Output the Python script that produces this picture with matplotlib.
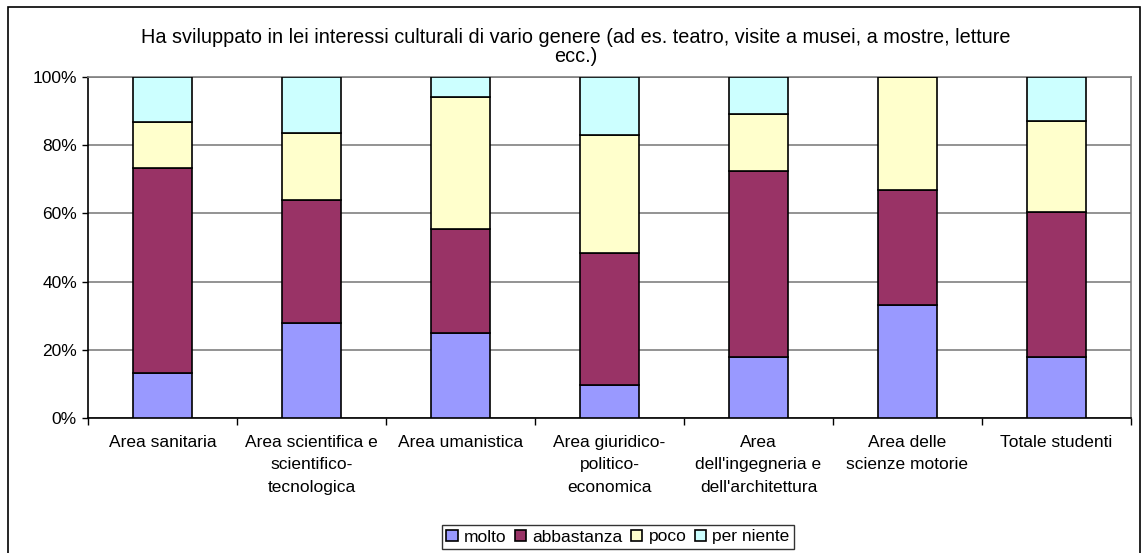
import numpy as np
import matplotlib.pyplot as plt
from matplotlib.patches import Rectangle

plt.rcParams['font.family'] = ['Liberation Sans', 'DejaVu Sans']

# categories and shares (%) for each answer
categories = ["Area sanitaria", "Area scientifica e\nscientifico-\ntecnologica",
              "Area umanistica", "Area giuridico-\npolitico-\neconomica",
              "Area\ndell'ingegneria e\ndell'architettura",
              "Area delle\nscienze motorie", "Totale studenti"]
molto = [13.2, 27.8, 25.1, 9.8, 18.0, 33.3, 18.0]
abbastanza = [60.2, 36.1, 30.2, 38.5, 54.5, 33.4, 42.5]
poco = [13.2, 19.5, 38.8, 34.5, 16.5, 33.3, 26.6]
per_niente = [13.4, 16.6, 5.9, 17.2, 11.0, 0.0, 12.9]

series = [("molto", molto, "#9999FF"),
          ("abbastanza", abbastanza, "#993366"),
          ("poco", poco, "#FFFFCC"),
          ("per niente", per_niente, "#CCFFFF")]

fs = 12.5

fig = plt.figure(figsize=(11.42, 5.53), dpi=100)
ax = fig.add_axes([88/1142, 1 - 418.3/553, 1043/1142, 341.6/553])

x = np.arange(len(categories))
bottom = np.zeros(len(categories))
for name, vals, col in series:
    vals = np.array(vals)
    ax.bar(x, vals, 0.4, bottom=bottom, color=col, edgecolor="black",
           linewidth=1.2, label=name, zorder=3)
    bottom += vals

ax.set_ylim(0, 100)
ax.set_xlim(-0.5, len(categories) - 0.5)
ax.set_yticks(np.arange(0, 101, 20))
ax.set_yticklabels([f"{v}%" for v in range(0, 101, 20)], fontsize=fs)
ax.yaxis.grid(True, color="#808080", linewidth=1.2, zorder=0)

ax.set_xticks(x)
ax.set_xticklabels(categories, fontsize=fs, linespacing=1.62, va="top")
ax.set_xticks(np.arange(-0.5, len(categories)), minor=True)
ax.tick_params(axis="x", which="major", length=0, pad=12)
ax.tick_params(axis="x", which="minor", length=5, direction="out", width=1)
ax.tick_params(axis="y", length=4, width=1, direction="out", pad=4)

for s in ["left", "bottom"]:
    ax.spines[s].set_color("black")
    ax.spines[s].set_linewidth(1.2)
for s in ["top", "right"]:
    ax.spines[s].set_color("#808080")
    ax.spines[s].set_linewidth(1.2)

fig.text(576/1142, 1 - 43/553,
         "Ha sviluppato in lei interessi culturali di vario genere (ad es. teatro, visite a musei, a mostre, letture",
         ha="center", va="baseline", fontsize=14.3)
fig.text(576/1142, 1 - 62/553, "ecc.)", ha="center", va="baseline", fontsize=14.3)

leg = fig.legend(loc="center", bbox_to_anchor=(618/1142, 1 - 537/553), ncol=4,
                 fontsize=fs, frameon=True, fancybox=False, edgecolor="black",
                 handlelength=0.65, handleheight=0.65, handletextpad=0.35,
                 columnspacing=0.5, borderpad=0.25, borderaxespad=0)
leg.get_frame().set_linewidth(1)

# outer chart border
fig.patches.append(Rectangle((7.5/1142, -0.1), 1132/1142, 1.1 - 7.5/553,
                             transform=fig.transFigure, fill=False,
                             edgecolor="black", linewidth=1.2))

fig.savefig("out.png", dpi=100)
